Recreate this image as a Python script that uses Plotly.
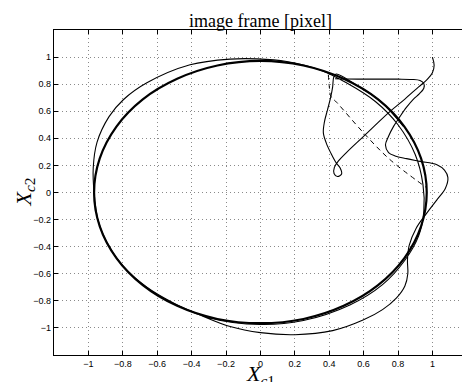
import plotly.graph_objects as go

# ---- data ----
tick_vals = [-1, -0.8, -0.6, -0.4, -0.2, 0, 0.2, 0.4, 0.6, 0.8, 1]
tick_text = ["\u22121", "\u22120.8", "\u22120.6", "\u22120.4", "\u22120.2", "0",
             "0.2", "0.4", "0.6", "0.8", "1"]

# converged orbit (thick)
circle_x = [0.967, 0.934, 0.837, 0.684, 0.484, 0.250, 0.0, -0.250, -0.484, -0.684,
            -0.837, -0.934, -0.967, -0.934, -0.837, -0.684, -0.484, -0.250, 0.0,
            0.250, 0.484, 0.684, 0.837, 0.934, 0.967]
circle_y = [0.0, 0.252, 0.487, 0.688, 0.840, 0.938, 0.972, 0.938, 0.840, 0.688,
            0.487, 0.252, 0.0, -0.250, -0.484, -0.684, -0.837, -0.934, -0.965,
            -0.934, -0.837, -0.684, -0.484, -0.250, 0.0]

# trajectory starting at the top right, with the small loop
t1_x = [1.0, 1.01, 1.0, 0.97, 0.92, 0.84, 0.754, 0.6, 0.5, 0.455, 0.43, 0.428,
        0.448, 0.472, 0.463, 0.44, 0.41, 0.383, 0.366, 0.372, 0.39, 0.408, 0.42,
        0.426, 0.44, 0.55, 0.70, 0.83]
t1_y = [1.0, 0.94, 0.885, 0.835, 0.78, 0.69, 0.599, 0.415, 0.295, 0.235, 0.185,
        0.140, 0.118, 0.137, 0.182, 0.22, 0.29, 0.365, 0.44, 0.52, 0.61, 0.70, 0.78,
        0.85, 0.875, 0.80, 0.672, 0.49]

# long trajectory: horizontal, S wiggle, outer orbit, inner orbit
t2_x = [0.434, 0.5, 0.6, 0.7, 0.8, 0.88, 0.928, 0.950, 0.950, 0.925, 0.890, 0.850,
        0.812, 0.775, 0.745, 0.727, 0.745, 0.783, 0.85, 0.928, 1.026, 1.070, 1.090,
        1.075, 1.026, 0.967, 0.905, 0.865, 0.855, 0.857, 0.84, 0.79, 0.71, 0.60, 0.42,
        0.2, 0.0, -0.176, -0.35, -0.5, -0.66, -0.80, -0.9, -0.945, -0.967, -0.972,
        -0.95, -0.88, -0.797, -0.66, -0.409, -0.176, -0.02, 0.153, 0.347, 0.5, 0.67,
        0.80, 0.90, 0.945, 0.95, 0.92, 0.84, 0.71, 0.52, 0.25, 0.0, -0.3, -0.55]
t2_y = [0.84, 0.838, 0.837, 0.837, 0.837, 0.835, 0.827, 0.805, 0.770, 0.730, 0.690,
        0.630, 0.562, 0.49, 0.415, 0.35, 0.295, 0.27, 0.250, 0.230, 0.205, 0.165,
        0.11, 0.03, -0.054, -0.152, -0.265, -0.39, -0.5, -0.6, -0.69, -0.78, -0.865,
        -0.94, -1.02, -1.05, -1.035, -0.99, -0.905, -0.82, -0.70, -0.54, -0.35, -0.2,
        0.0, 0.18, 0.37, 0.56, 0.685, 0.81, 0.943, 0.985, 0.987, 0.968, 0.905, 0.81,
        0.67, 0.50, 0.28, 0.06, -0.14, -0.32, -0.50, -0.68, -0.83, -0.945, -0.975,
        -0.925, -0.79]

# dashed reference path
dash_x = [0.395, 0.40, 0.41, 0.444, 0.6, 0.754, 0.967]
dash_y = [0.87, 0.79, 0.71, 0.665, 0.44, 0.242, 0.035]

fig = go.Figure()
fig.add_trace(go.Scatter(x=circle_x, y=circle_y, mode="lines",
                         line=dict(color="black", width=2.2, shape="spline")))
fig.add_trace(go.Scatter(x=t1_x, y=t1_y, mode="lines",
                         line=dict(color="black", width=1.1, shape="spline")))
fig.add_trace(go.Scatter(x=t2_x, y=t2_y, mode="lines",
                         line=dict(color="black", width=1.1, shape="spline")))
fig.add_trace(go.Scatter(x=dash_x, y=dash_y, mode="lines",
                         line=dict(color="black", width=1.0, dash="5px,4px",
                                   shape="spline")))

axis_common = dict(
    tickvals=tick_vals, ticktext=tick_text,
    showgrid=True, gridcolor="#8a8a8a", griddash="1px,3px", gridwidth=1,
    zeroline=False, showline=True, linecolor="black", linewidth=1.3,
    ticks="inside", ticklen=4, tickcolor="black", tickwidth=1,
    tickfont=dict(family="Liberation Sans, Arial, sans-serif", size=9, color="black"),
)
fig.update_xaxes(range=[-1.2, 1.172], mirror="ticks", **axis_common)
fig.update_yaxes(range=[-1.2, 1.2], mirror=False, **axis_common)

fig.update_layout(
    width=462, height=382,
    margin=dict(l=54, r=0, t=30, b=27),
    paper_bgcolor="white", plot_bgcolor="white",
    showlegend=False,
    annotations=[
        dict(text="image frame [pixel]", x=0, xref="x", y=1.028, yref="paper",
             xanchor="center", yanchor="middle", showarrow=False,
             font=dict(family="Liberation Serif, Times New Roman, serif", size=18,
                       color="black")),
        dict(text="<i>X</i><sub><i>c</i>1</sub>", x=0, xref="x", y=-0.012,
             yref="paper", xanchor="center", yanchor="top", showarrow=False,
             font=dict(family="Liberation Serif, Times New Roman, serif", size=22,
                       color="black")),
        dict(text="<i>X</i><sub><i>c</i>2</sub>", x=-0.0735, xref="paper", y=0,
             yref="y", xanchor="center", yanchor="middle", textangle=-90,
             showarrow=False,
             font=dict(family="Liberation Serif, Times New Roman, serif", size=22,
                       color="black")),
    ],
)

fig.write_html("out.html")
